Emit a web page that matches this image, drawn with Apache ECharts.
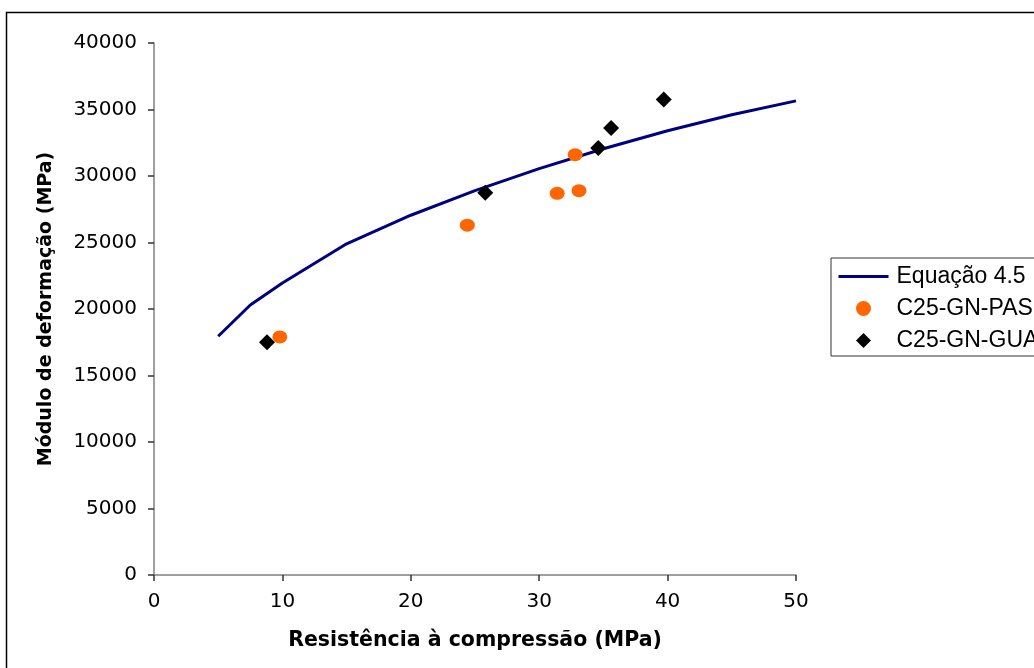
<!DOCTYPE html>
<html>
<head>
<meta charset="utf-8">
<script src="https://cdn.jsdelivr.net/npm/echarts@6/dist/echarts.min.js"></script>
<style>
html,body{margin:0;padding:0;background:#fff;}
#chart{width:1034px;height:668px;}
</style>
</head>
<body>
<div id="chart"></div>
<script>
// Data
const seriesNames = ['Equação 4.5', 'C25-GN-PAS', 'C25-GN-GUA'];
const eqX = [5, 7.5, 10, 15, 20, 25, 30, 35, 40, 45, 50];
const eqY = [17950, 20300, 21950, 24900, 27050, 28900, 30550, 32050, 33400, 34600, 35650];
const pasX = [9.8, 24.4, 31.4, 33.1, 32.8];
const pasY = [17900, 26300, 28700, 28900, 31600];
const guaX = [8.8, 25.8, 34.6, 35.6, 39.7];
const guaY = [17500, 28750, 32100, 33600, 35750];
const xTicks = [0, 10, 20, 30, 40, 50];
const yTicks = [0, 5000, 10000, 15000, 20000, 25000, 30000, 35000, 40000];
const xTitle = 'Resistência à compressão (MPa)';
const yTitle = 'Módulo de deformação (MPa)';

const zip = (a, b) => a.map((v, i) => [v, b[i]]);
const diamondPath = 'path://M0,-1 L1,0 L0,1 L-1,0 Z';

const chart = echarts.init(document.getElementById('chart'), null, {renderer: 'canvas'});
const axisFont = {fontFamily: 'DejaVu Sans', fontSize: 20, color: '#000', formatter: v => String(v)};
chart.setOption({
  animation: false,
  backgroundColor: '#fff',
  graphic: [{
    type: 'rect', left: 4, top: 10, z: -1,
    shape: {x: 0, y: 0, width: 1200, height: 800},
    style: {fill: 'none', stroke: '#000', lineWidth: 1.5}
  }],
  grid: {left: 154, top: 43, right: 238, bottom: 93, containLabel: false},
  legend: {
    orient: 'vertical',
    left: 831, top: 258,
    padding: [7, 10, 4, 6],
    itemGap: 9,
    itemWidth: 50, itemHeight: 15,
    symbolKeepAspect: true,
    borderColor: '#333', borderWidth: 1,
    textStyle: {fontFamily: 'Liberation Sans', fontSize: 23, lineHeight: 23, color: '#000', padding: [0, 0, 0, 3]},
    data: [
      {name: seriesNames[0], itemStyle: {opacity: 0}, lineStyle: {width: 3, color: '#000080'}},
      {name: seriesNames[1], icon: 'circle'},
      {name: seriesNames[2], icon: diamondPath}
    ]
  },
  xAxis: {
    type: 'value', min: xTicks[0], max: xTicks[xTicks.length - 1], interval: 10,
    name: xTitle, nameLocation: 'middle', nameGap: 55,
    nameTextStyle: {fontFamily: 'DejaVu Sans', fontSize: 20.5, fontWeight: 'bold', color: '#000'},
    axisLine: {show: true, lineStyle: {color: '#808080', width: 1.5}},
    axisTick: {show: true, inside: false, length: 6, lineStyle: {color: '#333', width: 1.5}},
    axisLabel: Object.assign({margin: 17}, axisFont),
    splitLine: {show: false}
  },
  yAxis: {
    type: 'value', min: yTicks[0], max: yTicks[yTicks.length - 1], interval: 5000,
    name: yTitle, nameLocation: 'middle', nameGap: 98, nameRotate: 90,
    nameTextStyle: {fontFamily: 'DejaVu Sans', fontSize: 19, fontWeight: 'bold', color: '#000'},
    axisLine: {show: true, lineStyle: {color: '#808080', width: 1.5}},
    axisTick: {show: true, inside: false, length: 6, lineStyle: {color: '#333', width: 1.5}},
    axisLabel: Object.assign({margin: 17}, axisFont),
    splitLine: {show: false}
  },
  series: [
    {
      name: seriesNames[0], type: 'line', data: zip(eqX, eqY),
      symbol: 'none', smooth: false,
      lineStyle: {color: '#000080', width: 3},
      itemStyle: {color: '#000080'}, z: 2
    },
    {
      name: seriesNames[1], type: 'scatter', data: zip(pasX, pasY),
      symbol: 'circle', symbolSize: [15, 13],
      itemStyle: {color: '#FF6600', opacity: 1}, z: 3
    },
    {
      name: seriesNames[2], type: 'scatter', data: zip(guaX, guaY),
      symbol: diamondPath, symbolSize: [16, 16],
      itemStyle: {color: '#000', opacity: 1}, z: 3
    }
  ]
});
</script>
</body>
</html>
